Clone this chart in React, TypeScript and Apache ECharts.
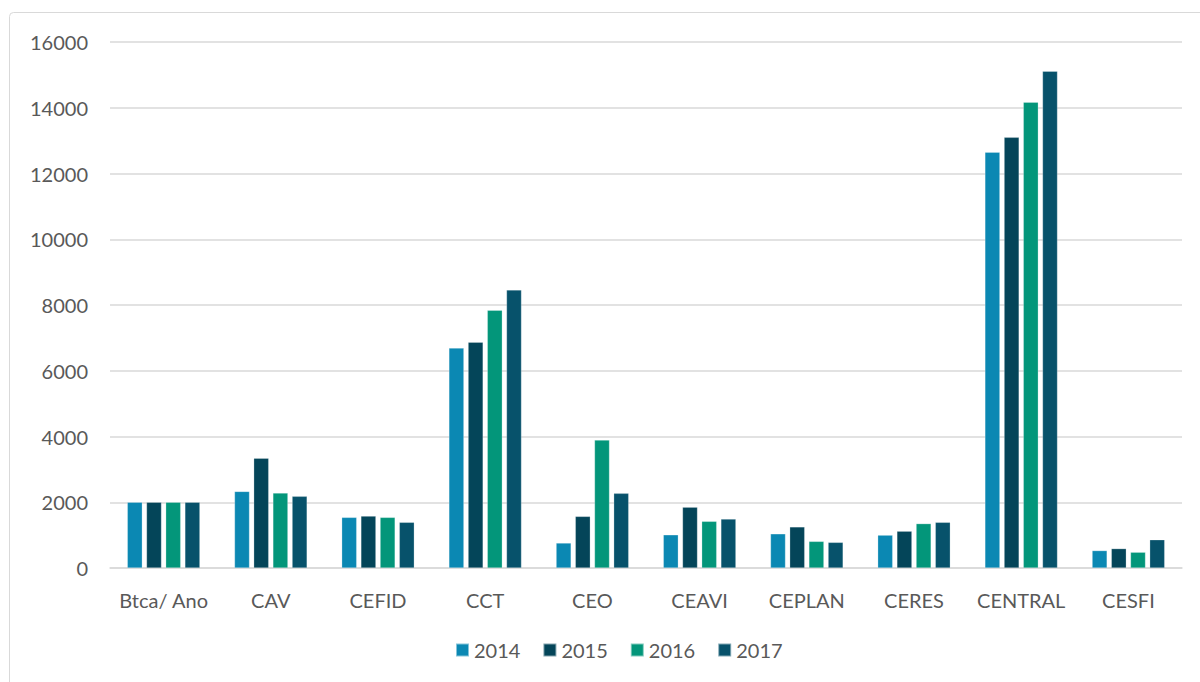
import React, { useEffect, useRef } from "react";
import * as echarts from "echarts";

const categories = ["Btca/ Ano", "CAV", "CEFID", "CCT", "CEO", "CEAVI", "CEPLAN", "CERES", "CENTRAL", "CESFI"];
const years = ["2014", "2015", "2016", "2017"];
const values2014 = [2000, 2330, 1540, 6690, 760, 1010, 1040, 1000, 12650, 530];
const values2015 = [2000, 3340, 1580, 6870, 1570, 1850, 1250, 1120, 13100, 590];
const values2016 = [2000, 2280, 1540, 7840, 3890, 1420, 810, 1350, 14170, 480];
const values2017 = [2000, 2180, 1390, 8460, 2270, 1490, 780, 1390, 15110, 860];
const yTicks = { min: 0, max: 16000, interval: 2000 };

const colors = ["#0b88b3", "#044559", "#03967a", "#07526b"];

export default function App() {
  const ref = useRef<HTMLDivElement>(null);
  useEffect(() => {
    document.body.style.margin = "0";
    const chart = echarts.init(ref.current!, undefined, { renderer: "svg" });
    const seriesData = [values2014, values2015, values2016, values2017];
    chart.setOption({
      animation: false,
      backgroundColor: "#ffffff",
      textStyle: { fontFamily: "Lato, 'Open Sans', sans-serif" },
      graphic: [
        {
          type: "rect",
          shape: { x: 9.5, y: 12.5, width: 1200, height: 680, r: 4 },
          style: { fill: "none", stroke: "#d9d9d9", lineWidth: 1 },
          silent: true,
        },
      ],
      grid: { left: 110, right: 18, top: 42, bottom: 114, containLabel: false },
      legend: {
        data: years,
        bottom: 17,
        left: 450,
        itemWidth: 13,
        itemHeight: 13,
        itemGap: 22,
        icon: "rect",
        textStyle: { color: "#595959", fontSize: 20, fontFamily: "Lato, 'Open Sans', sans-serif" },
      },
      xAxis: {
        type: "category",
        data: categories,
        axisLine: { lineStyle: { color: "#d9d9d9", width: 1.5 } },
        axisTick: { show: false },
        axisLabel: { color: "#595959", fontSize: 20, margin: 22, interval: 0 },
      },
      yAxis: {
        type: "value",
        min: yTicks.min,
        max: yTicks.max,
        interval: yTicks.interval,
        axisLine: { show: false },
        axisTick: { show: false },
        axisLabel: { color: "#595959", fontSize: 20, margin: 22, formatter: (v: number) => String(v) },
        splitLine: { lineStyle: { color: "#d9d9d9", width: 1.5 } },
      },
      series: years.map((y, i) => ({
        name: y,
        type: "bar",
        data: seriesData[i],
        barWidth: 15,
        barGap: "28%",
        itemStyle: { color: colors[i], borderColor: "rgba(255,255,255,0.5)", borderWidth: 0.5 },
      })),
    });
    return () => chart.dispose();
  }, []);
  return <div ref={ref} style={{ width: 1200, height: 682 }} />;
}
